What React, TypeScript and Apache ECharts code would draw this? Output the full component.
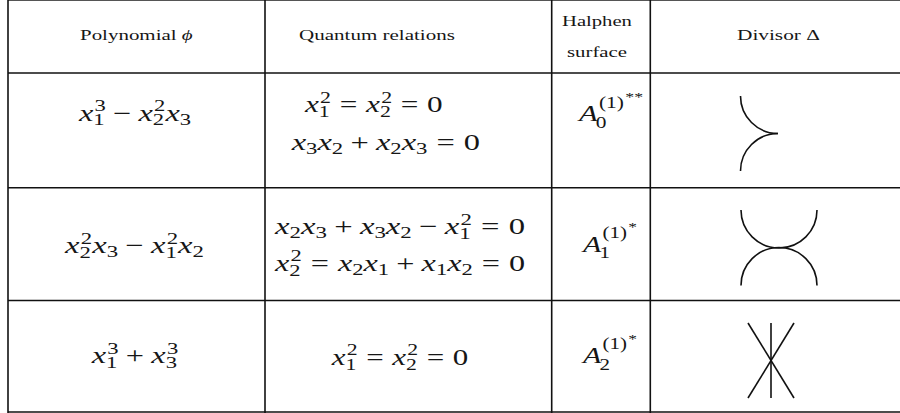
import React, { useEffect, useRef } from "react";
import * as echarts from "echarts";

// ---------- content ----------
const headerPolynomial = "Polynomial ϕ";
const headerRelations = "Quantum relations";
const headerSurface = ["Halphen", "surface"];
const headerDivisor = "Divisor Δ";

const polynomials = ["x_1^3-x_2^2x_3", "x_2^2x_3-x_1^2x_2", "x_1^3+x_3^3"];
const relations = [
  ["x_1^2=x_2^2=0", "x_3x_2+x_2x_3=0"],
  ["x_2x_3+x_3x_2-x_1^2=0", "x_2^2=x_2x_1+x_1x_2=0"],
  ["x_1^2=x_2^2=0"],
];
const surfaces = ["A_0^{(1)^{**}}", "A_1^{(1)^{*}}", "A_2^{(1)^{*}}"];
const divisors = ["cusp", "tacnode", "triple"];

// ---------- layout (positions only) ----------
const FAMILY = "Liberation Serif";
const INK = "#161616";
const MATH = 23;
const HEAD = 14;
const colX = [8, 265, 551.7, 650.3];
const rowY = [73, 187.7, 300.5, 412];
const polyPos = [
  [79, 191, 121],
  [65, 204, 253],
  [91.7, 178.3, 363],
];
const relPos = [
  [
    [305, 442.7, 112.5],
    [291.7, 480, 150],
  ],
  [
    [275, 525, 234.5],
    [275, 525, 271],
  ],
  [[331.7, 468.3, 365]],
];
const surfPos = [
  [579, 643, 121.5],
  [583, 637, 251.7],
  [583, 637, 363],
];
const headPos: [string, number, number, number][] = [
  [headerPolynomial, 80, 192.7, 40.5],
  [headerRelations, 299, 455, 40.5],
  [headerSurface[0], 562, 632, 25.5],
  [headerSurface[1], 567, 627, 57],
  [headerDivisor, 737, 820, 40.5],
];

// ---------- text measuring ----------
let ctx: CanvasRenderingContext2D | null = null;
function measure(s: string, size: number, italic: boolean): number {
  if (!ctx) ctx = document.createElement("canvas").getContext("2d");
  if (!ctx) return s.length * size * 0.5;
  ctx.font = `${italic ? "italic " : ""}${size}px '${FAMILY}'`;
  return ctx.measureText(s).width;
}

function txt(s: string, x: number, baseline: number, size: number, italic: boolean) {
  return {
    type: "text",
    x,
    y: baseline - 0.3375 * size,
    silent: true,
    style: {
      text: s,
      fontFamily: FAMILY,
      fontSize: size,
      fontStyle: italic ? "italic" : "normal",
      fill: INK,
      align: "left",
      verticalAlign: "middle",
      textAlign: "left",
      textVerticalAlign: "middle",
    },
  };
}

type Atom = { base: string; italic: boolean; sub?: string; sup?: string; supsup?: string; space?: number };

function parse(src: string): Atom[] {
  const atoms: Atom[] = [];
  let i = 0;
  const readGroup = () => {
    if (src[i] === "{") {
      let depth = 1;
      let j = i + 1;
      while (depth > 0 && j < src.length) {
        if (src[j] === "{") depth++;
        else if (src[j] === "}") depth--;
        j++;
      }
      const g = src.slice(i + 1, j - 1);
      i = j;
      return g;
    }
    return src[i++];
  };
  while (i < src.length) {
    const c = src[i++];
    let a: Atom;
    if (c === "=") a = { base: "=", italic: false, space: 0.278 };
    else if (c === "+") a = { base: "+", italic: false, space: 0.222 };
    else if (c === "-") a = { base: "\u2212", italic: false, space: 0.222 };
    else if (/[A-Za-z]/.test(c)) a = { base: c, italic: true };
    else a = { base: c, italic: false };
    while (src[i] === "_" || src[i] === "^") {
      const k = src[i++];
      const g = readGroup();
      if (k === "_") a.sub = g;
      else {
        const p = g.indexOf("^");
        if (p >= 0) {
          a.sup = g.slice(0, p);
          let rest = g.slice(p + 1);
          if (rest[0] === "{") rest = rest.slice(1, -1);
          a.supsup = rest;
        } else a.sup = g;
      }
    }
    atoms.push(a);
  }
  return atoms;
}

function mathGroup(src: string, left: number, right: number, baseline: number, f: number) {
  const atoms = parse(src);
  const fs = f * 0.7;
  const fss = f * 0.58;
  const els: any[] = [];
  let x = 0;
  for (const a of atoms) {
    if (a.space) x += a.space * f;
    const w = measure(a.base, f, a.italic);
    els.push(txt(a.base, x, baseline, f, a.italic));
    const cap = /[A-Z]/.test(a.base);
    let ws = 0;
    if (a.sup) {
      const shift = cap ? 0.6 * f : 0.42 * f;
      const sx = x + w + (a.italic ? 0.04 * f : 0);
      els.push(txt(a.sup, sx, baseline - shift, fs, false));
      let wsup = measure(a.sup, fs, false);
      if (a.supsup) {
        els.push(txt(a.supsup, sx + wsup + 1, baseline - shift - 0.3 * f, fss, false));
        wsup += measure(a.supsup, fss, false) + 1;
      }
      ws = Math.max(ws, wsup + (a.italic ? 0.04 * f : 0));
    }
    if (a.sub) {
      const shift = a.sup ? (cap ? 0.28 * f : 0.2 * f) : 0.16 * f;
      const sx = x + w - (cap ? 0.06 * f : 0);
      els.push(txt(a.sub, sx, baseline + shift, fs, false));
      ws = Math.max(ws, measure(a.sub, fs, false) - (cap ? 0.06 * f : 0));
    }
    x += w + ws;
    if (a.space) x += a.space * f;
  }
  return { type: "group", x: left, y: 0, scaleX: (right - left) / x, scaleY: 1, children: els };
}

function textGroup(s: string, left: number, right: number, baseline: number, f: number) {
  const els: any[] = [];
  let x = 0;
  const parts = s.split(/(ϕ)/).filter((p) => p.length);
  for (const p of parts) {
    const it = p === "ϕ";
    els.push(txt(p, x, baseline, f, it));
    x += measure(p, f, it);
  }
  return { type: "group", x: left, y: 0, scaleX: (right - left) / x, scaleY: 1, children: els };
}

function line(x1: number, y1: number, x2: number, y2: number, w = 1.6, c = "#111") {
  return { type: "line", silent: true, shape: { x1, y1, x2, y2 }, style: { stroke: c, lineWidth: w } };
}
function arc(cx: number, cy: number, r: number, a0: number, a1: number) {
  return {
    type: "arc",
    silent: true,
    shape: { cx, cy, r, startAngle: a0, endAngle: a1, clockwise: true },
    style: { stroke: "#111", lineWidth: 1.6, fill: "none" },
  };
}

function divisorElements(kind: string) {
  const P = Math.PI;
  if (kind === "cusp") {
    return [arc(778, 96, 37.5, P / 2, P), arc(778, 171, 37.5, P, 1.5 * P)];
  }
  if (kind === "tacnode") {
    return [arc(779, 210, 38, 0, P), arc(779, 285.5, 38, P, 2 * P)];
  }
  return [line(771, 323, 771, 398), line(748, 323, 794, 398), line(794, 323, 748, 398)];
}

export default function App() {
  const ref = useRef<HTMLDivElement>(null);
  useEffect(() => {
    if (!ref.current) return;
    const chart = echarts.init(ref.current, undefined, { renderer: "svg" });
    const elements: any[] = [];
    elements.push(line(colX[0], 0.5, 900, 0.5, 1.2, "#555"));
    for (const y of rowY) elements.push(line(colX[0], y, 900, y, 1.6));
    for (const x of colX) elements.push(line(x, 0, x, 413, 1.6));
    for (const [s, l, r, b] of headPos) elements.push(textGroup(s, l, r, b, HEAD));
    polynomials.forEach((p, i) => {
      const [l, r, b] = polyPos[i];
      elements.push(mathGroup(p, l, r, b, MATH));
    });
    relations.forEach((rows, i) => {
      rows.forEach((rel, j) => {
        const [l, r, b] = relPos[i][j];
        elements.push(mathGroup(rel, l, r, b, MATH));
      });
    });
    surfaces.forEach((s, i) => {
      const [l, r, b] = surfPos[i];
      elements.push(mathGroup(s, l, r, b, MATH));
    });
    divisors.forEach((d) => elements.push(...divisorElements(d)));

    chart.setOption({
      animation: false,
      backgroundColor: "#fff",
      graphic: { elements },
    });
    return () => chart.dispose();
  }, []);
  return (
    <div
      ref={ref}
      style={{ position: "fixed", left: 0, top: 0, width: 900, height: 413, background: "#fff" }}
    />
  );
}
